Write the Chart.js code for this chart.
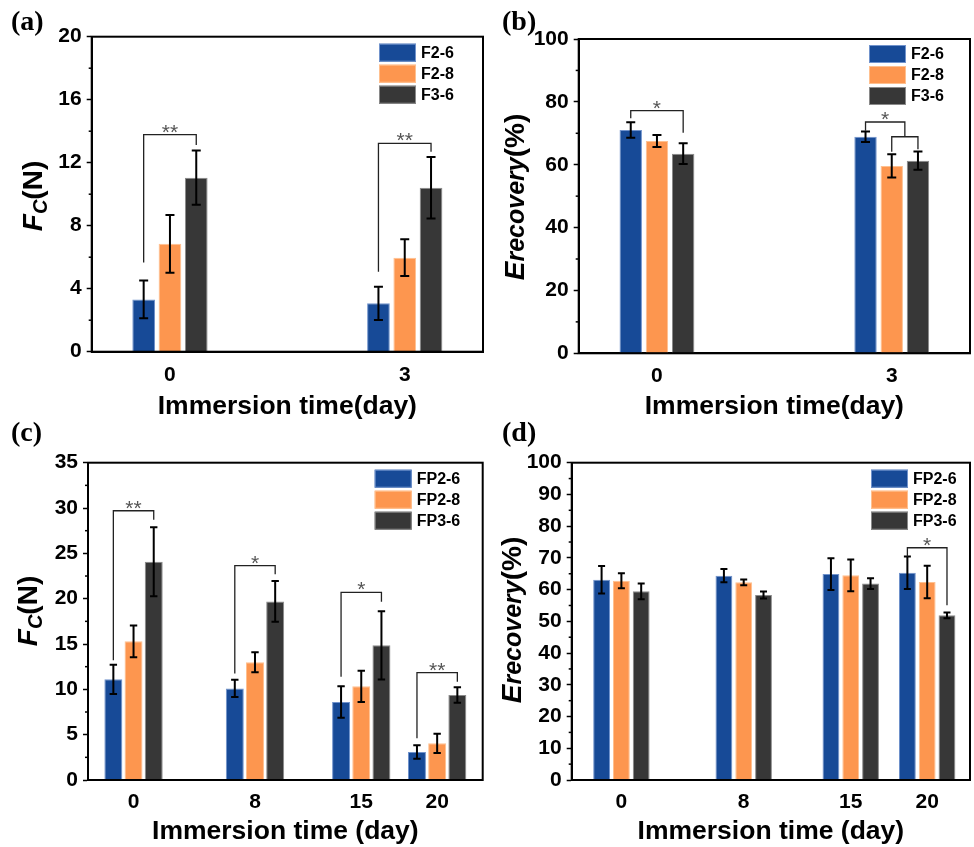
<!DOCTYPE html>
<html>
<head>
<meta charset="utf-8">
<script src="https://cdn.jsdelivr.net/npm/chart.js@4"></script>
<style>
body{margin:0;background:#fff;width:974px;height:847px;position:relative;overflow:hidden}
canvas{position:absolute}
.tag{position:absolute;font-family:"Liberation Serif";font-weight:bold;font-size:28px;line-height:1}
</style>
</head>
<body>
<canvas id="ca" width="487" height="420" style="left:0;top:0"></canvas>
<canvas id="cb" width="487" height="420" style="left:487px;top:0"></canvas>
<canvas id="cc" width="487" height="427" style="left:0;top:420px"></canvas>
<canvas id="cd" width="487" height="427" style="left:487px;top:420px"></canvas>
<div class="tag" style="left:11px;top:7px">(a)</div>
<div class="tag" style="left:502px;top:7px">(b)</div>
<div class="tag" style="left:11px;top:418px">(c)</div>
<div class="tag" style="left:502px;top:418px">(d)</div>
<script>
let shortDays=[0,3]
let longDays=[0,8,15,20]
let fNames=["F2-6","F2-8","F3-6"]
let fpNames=["FP2-6","FP2-8","FP3-6"]

// (a) Fc, 0 and 3 days
let aF26=[3.32,3.07], aF26Err=[1.2,1.06]
let aF28=[6.85,5.97], aF28Err=[1.83,1.17]
let aF36=[11.05,10.41], aF36Err=[1.72,1.95]
// significance: day, bar from, bar to, top, left leg end, right leg end, mark
let aMarks=[[0,0,2,13.78,5.67,13.12,"**"],[3,0,2,13.23,5.08,12.7,"**"]]

// (b) E recovery, 0 and 3 days
let bF26=[71.05,68.9], bF26Err=[2.5,1.7]
let bF28=[67.55,59.6], bF28Err=[1.9,3.7]
let bF36=[63.5,61.3], bF36Err=[3.3,2.9]
let bMarks=[[0,0,2,77.2,74.8,70.2,"*"],[3,0,1.5,73.6,70.8,68.9,"*"],[3,1,2,68.9,64.1,64.9,""]]

// (c) Fc, 0-20 days
let cFP26=[11.1,10.1,8.6,3.09], cFP26Err=[1.6,0.95,1.73,0.75]
let cFP28=[15.3,12.98,10.33,4.04], cFP28Err=[1.75,1.1,1.73,1.07]
let cFP36=[24.08,19.7,14.85,9.38], cFP36Err=[3.8,2.25,3.77,0.85]
let cMarks=[[0,0,2,29.7,13.2,28.7,"**"],[8,0,2,23.64,11.76,22.7,"*"],[15,0,2,20.7,11.4,19.67,"*"],[20,0,2,11.84,4.6,10.85,"**"]]

// (d) E recovery, 0-20 days
let dFP26=[63.1,64.4,64.9,65.3], dFP26Err=[4.35,2.1,5.0,5.1]
let dFP28=[62.8,62.3,64.5,62.4], dFP28Err=[2.35,0.9,5.0,5.1]
let dFP36=[59.45,58.3,61.9,51.9], dFP36Err=[2.5,1.1,1.7,0.9]
let dMarks=[[20,0,2,73.2,70.4,55.1,"*"]]

let fills=["#174a97","#fd964f","#373737"]
let edges=["#7193cc","#ffc08f","#8a8a8a"]
let font="'Liberation Sans', Arial, sans-serif"

Chart.defaults.color="#000"
Chart.defaults.font.family=font

function barX(chart,ds,j){
let a=chart.getDatasetMeta(Math.floor(ds)).data[j].x
let b=chart.getDatasetMeta(Math.ceil(ds)).data[j].x
return (a+b)/2
}

let extras={
id:"extras",
afterDatasetsDraw(chart,args,o){
let ctx=chart.ctx
let y=chart.scales.y
ctx.save()
ctx.strokeStyle="#000"
ctx.lineWidth=2
chart.data.datasets.forEach((ds,i)=>{
chart.getDatasetMeta(i).data.forEach((bar,j)=>{
let v=ds.data[j].y, e=ds.err[j]
let t=y.getPixelForValue(v+e), b=y.getPixelForValue(v-e)
ctx.beginPath()
ctx.moveTo(bar.x,t);ctx.lineTo(bar.x,b)
ctx.moveTo(bar.x-o.cap,t);ctx.lineTo(bar.x+o.cap,t)
ctx.moveTo(bar.x-o.cap,b);ctx.lineTo(bar.x+o.cap,b)
ctx.stroke()
})
})
ctx.strokeStyle="#222"
ctx.lineWidth=1.3
o.marks.forEach(m=>{
let j=o.days.indexOf(m[0])
let x1=barX(chart,m[1],j), x2=barX(chart,m[2],j)
let top=y.getPixelForValue(m[3])
ctx.beginPath()
ctx.moveTo(x1,y.getPixelForValue(m[4]))
ctx.lineTo(x1,top)
ctx.lineTo(x2,top)
ctx.lineTo(x2,y.getPixelForValue(m[5]))
ctx.stroke()
if(m[6]){
ctx.fillStyle="#555"
ctx.font="21px "+font
ctx.textAlign="center"
ctx.textBaseline="alphabetic"
ctx.fillText(m[6],(x1+x2)/2,top+4)
}
})
ctx.restore()
},
afterDraw(chart,args,o){
let ctx=chart.ctx
let a=chart.chartArea
let y=chart.scales.y
ctx.save()
ctx.strokeStyle="#000"
ctx.lineWidth=2
ctx.strokeRect(a.left,a.top,a.right-a.left,a.bottom-a.top)
// minor ticks
ctx.lineWidth=1.5
let tv=y.ticks.map(t=>t.value)
for(let i=1;i<tv.length;i++){
let p=y.getPixelForValue((tv[i]+tv[i-1])/2)
ctx.beginPath();ctx.moveTo(a.left-3,p);ctx.lineTo(a.left,p);ctx.stroke()
}
// legend
chart.data.datasets.forEach((ds,i)=>{
let bx=a.right-o.legend[0], by=a.top+o.legend[1]+i*21
ctx.fillStyle=ds.backgroundColor
ctx.fillRect(bx,by,37,18)
ctx.strokeStyle=ds.borderColor
ctx.lineWidth=1
ctx.strokeRect(bx+0.5,by+0.5,36,17)
ctx.fillStyle="#000"
ctx.font="bold 16px "+font
ctx.textAlign="left"
ctx.textBaseline="middle"
ctx.fillText(ds.label,bx+42,by+10)
})
// y title with mixed styles
let w=0
o.yTitle.forEach(p=>{ctx.font=p[1]+" "+font;w+=ctx.measureText(p[0]).width})
ctx.translate(o.yTitleAt[0]+10,o.yTitleAt[1])
ctx.rotate(-Math.PI/2)
ctx.fillStyle="#000"
ctx.textAlign="left"
ctx.textBaseline="alphabetic"
let cx=-w/2
o.yTitle.forEach(p=>{
ctx.font=p[1]+" "+font
ctx.fillText(p[0],cx,p[2])
cx+=ctx.measureText(p[0]).width
})
ctx.restore()
}
}

function makePanel(p){
let datasets=p.names.map((n,i)=>({
label:n,
data:p.days.map((d,j)=>({x:d,y:p.values[i][j]})),
err:p.errs[i],
backgroundColor:fills[i],
borderColor:edges[i],
borderWidth:1,
categoryPercentage:p.cp,
barPercentage:p.bp
}))
let W=p.size[0], H=p.size[1]
new Chart(document.getElementById(p.id),{
type:"bar",
data:{datasets:datasets},
plugins:[extras],
options:{
responsive:false,
animation:false,
layout:{padding:{left:0,top:p.area[1],right:W-p.area[2],bottom:0}},
plugins:{
legend:{display:false},
tooltip:{enabled:false},
extras:{cap:p.cap,marks:p.marks,days:p.days,legend:p.legend,yTitle:p.yTitle,yTitleAt:p.yTitleAt}
},
scales:{
x:{
type:"linear",
offset:false,
min:p.xRange[0],
max:p.xRange[1],
afterBuildTicks:s=>{s.ticks=p.days.map(v=>({value:v}))},
afterFit:s=>{s.height=H-p.area[3]},
grid:{display:false,drawTicks:false},
border:{display:true,color:"#000",width:2},
ticks:{font:{size:21,weight:"bold"},padding:p.xTickPad,autoSkip:false,maxRotation:0},
title:{display:true,text:p.xTitle,font:{size:26.5,weight:"bold",lineHeight:1},padding:{top:0,bottom:p.xTitlePad}}
},
y:{
min:0,
max:p.yMax,
afterFit:s=>{s.width=p.area[0]},
ticks:{stepSize:p.yStep,font:{size:21,weight:"bold"},padding:5},
grid:{display:true,drawOnChartArea:false,drawTicks:true,tickLength:5,tickWidth:1.5,tickColor:"#000"},
border:{display:true,color:"#000",width:2}
}
}
}
})
}

let fcTitle=[["F","italic bold 28px",0],["C","italic bold 20px",5],["(N)","bold 28px",0]]
let erTitle=[["E","italic bold 28px",0],["recovery","italic bold 25px",0],["(%)","bold 28px",0]]

makePanel({id:"ca",size:[487,420],area:[91.7,36.7,483,351.7],days:shortDays,xRange:[-1,4],
yMax:20,yStep:4,names:fNames,values:[aF26,aF28,aF36],errs:[aF26Err,aF28Err,aF36Err],marks:aMarks,
cp:0.336,bp:0.863,cap:4.5,legend:[104,7],yTitle:fcTitle,yTitleAt:[32,196],
xTitle:"Immersion time(day)",xTitlePad:0,xTickPad:10.5})

makePanel({id:"cb",size:[487,420],area:[91.7,39,483,353.3],days:shortDays,xRange:[-1,4],
yMax:100,yStep:20,names:fNames,values:[bF26,bF28,bF36],errs:[bF26Err,bF28Err,bF36Err],marks:bMarks,
cp:0.335,bp:0.855,cap:4.5,legend:[101,6],yTitle:erTitle,yTitleAt:[27,197],
xTitle:"Immersion time(day)",xTitlePad:0,xTickPad:10.5})

makePanel({id:"cc",size:[487,427],area:[88,42.7,482.7,360],days:longDays,xRange:[-3,23],
yMax:35,yStep:5,names:fpNames,values:[cFP26,cFP28,cFP36],errs:[cFP26Err,cFP28Err,cFP36Err],marks:cMarks,
cp:0.798,bp:0.89,cap:3.7,legend:[108,7],yTitle:fcTitle,yTitleAt:[27,191],
xTitle:"Immersion time (day)",xTitlePad:2,xTickPad:10})

makePanel({id:"cd",size:[487,427],area:[84.7,42.7,483,360],days:longDays,xRange:[-3.25,22.8],
yMax:100,yStep:10,names:fpNames,values:[dFP26,dFP28,dFP36],errs:[dFP26Err,dFP28Err,dFP36Err],marks:dMarks,
cp:0.777,bp:0.85,cap:3.5,legend:[99,7],yTitle:erTitle,yTitleAt:[24,200],
xTitle:"Immersion time (day)",xTitlePad:2,xTickPad:10})
</script>
</body>
</html>
